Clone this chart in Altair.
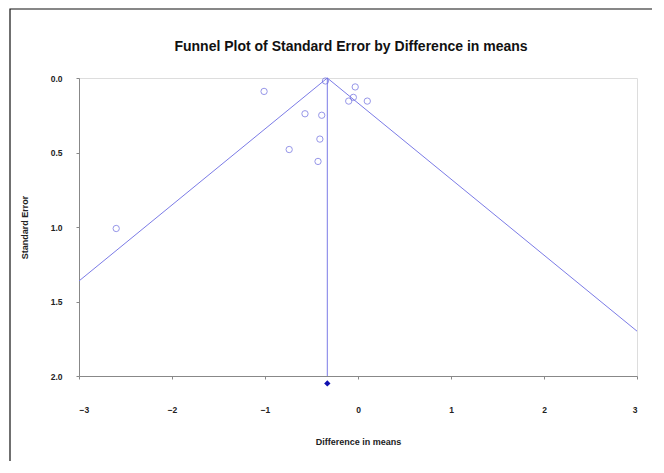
import altair as alt
import pandas as pd

# Study estimates (difference in means) and standard errors
diff = [-2.60, -1.01, -0.35, -0.57, -0.39, -0.41, -0.74, -0.43, -0.03, -0.05, -0.10, 0.10]
se = [1.01, 0.09, 0.02, 0.24, 0.25, 0.41, 0.48, 0.56, 0.06, 0.13, 0.155, 0.155]
pooled_mean = -0.33
x_ticks = [-3, -2, -1, 0, 1, 2, 3]
y_ticks = [0.0, 0.5, 1.0, 1.5, 2.0]

pts = pd.DataFrame({"diff": diff, "se": se})
funnel = pd.DataFrame({
    "diff": [-3, pooled_mean, 3],
    "se": [(pooled_mean + 3) / 1.96, 0.0, (3 - pooled_mean) / 1.96],
})
vline = pd.DataFrame({"diff": [pooled_mean, pooled_mean], "se": [0.0, 2.0]})
diamond = pd.DataFrame({"diff": [pooled_mean], "se": [2.05]})

FONT = "Liberation Sans"
LINE = "#7B7BE6"

xs = alt.Scale(domain=[-3, 3], nice=False, zero=False)
ys = alt.Scale(domain=[0, 2], nice=False, zero=False, reverse=True)

x_enc = alt.X("diff:Q", scale=xs, axis=alt.Axis(
    values=x_ticks, title="Difference in means", format="d",
    labelPadding=26, titlePadding=24, tickSize=3, grid=False,
    domainColor="#888888", tickColor="#888888",
    labelFont=FONT, labelFontSize=8.5, labelFontWeight="bold", labelColor="#222222",
    titleFont=FONT, titleFontSize=9, titleFontWeight="bold", titleColor="#222222"))
y_enc = alt.Y("se:Q", scale=ys, axis=alt.Axis(
    values=y_ticks, title="Standard Error", format=".1f",
    labelPadding=14, titlePadding=21, tickSize=3, grid=False,
    domainColor="#888888", tickColor="#888888",
    labelFont=FONT, labelFontSize=8.5, labelFontWeight="bold", labelColor="#222222",
    titleFont=FONT, titleFontSize=9, titleFontWeight="bold", titleColor="#222222"))

frame = alt.Chart(pd.DataFrame({"a": [0]})).mark_rect(
    filled=False, stroke="#111111", strokeWidth=1.2, clip=False
).encode(x=alt.value(-69), x2=alt.value(700), y=alt.value(-69), y2=alt.value(500))

lines = alt.Chart(funnel).mark_line(color=LINE, strokeWidth=1).encode(
    x=x_enc, y=y_enc, order=alt.Order("diff:Q"))
mean_line = alt.Chart(vline).mark_line(color=LINE, strokeWidth=1).encode(
    x="diff:Q", y="se:Q")
circles = alt.Chart(pts).mark_point(
    shape="circle", filled=False, color="#6B6BE0", size=40, strokeWidth=1
).encode(x="diff:Q", y="se:Q")
dia = alt.Chart(diamond).mark_point(
    shape="diamond", filled=True, color="#1010B0", size=40, opacity=1, clip=False
).encode(x="diff:Q", y="se:Q")

chart = alt.layer(frame, lines, mean_line, circles, dia).properties(
    width=558, height=298,
    title=alt.TitleParams("Funnel Plot of Standard Error by Difference in means",
                          font=FONT, fontSize=14, fontWeight="bold", color="#111111",
                          offset=-46, anchor="middle", frame="group", dx=-7),
    autosize=alt.AutoSizeParams(type="none"),
    padding={"left": 71, "top": 70, "right": 15, "bottom": 85},
).configure_view(stroke="#888888", strokeWidth=1.2).configure(background="white")

chart.save("out.html", embed_options={"renderer": "svg", "actions": False})
